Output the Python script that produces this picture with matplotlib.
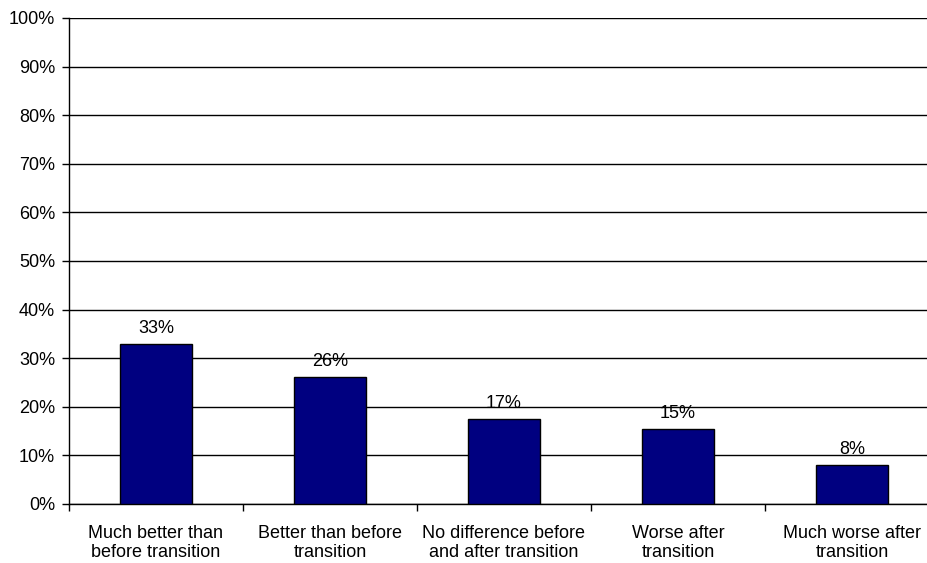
import matplotlib
matplotlib.use("Agg")
import matplotlib.pyplot as plt
from matplotlib.ticker import FixedLocator, FuncFormatter

categories = ["Much better than\nbefore transition", "Better than before\ntransition",
              "No difference before\nand after transition", "Worse after\ntransition",
              "Much worse after\ntransition"]
values = [32.9, 26.1, 17.4, 15.4, 8.0]
labels = ["33%", "26%", "17%", "15%", "8%"]
yticks = [0, 10, 20, 30, 40, 50, 60, 70, 80, 90, 100]

plt.rcParams['font.family'] = ['Liberation Sans', 'DejaVu Sans']

fig = plt.figure(figsize=(9.28, 5.63), dpi=100)
ax = fig.add_axes([69/928, 1-504/563, 870/928, 486/563])

x = list(range(len(categories)))
bars = ax.bar(x, values, width=0.41, color="#000080", edgecolor="black", linewidth=1, zorder=3)
for b, lab in zip(bars, labels):
    ax.annotate(lab, (b.get_x()+b.get_width()/2, b.get_height()), xytext=(0, 5),
                textcoords="offset points", ha="center", va="bottom", fontsize=13, zorder=4)

ax.set_xlim(-0.5, 4.5)
ax.set_ylim(0, 100)
ax.set_yticks(yticks)
ax.yaxis.set_major_formatter(FuncFormatter(lambda v, p: f"{int(v)}%"))
ax.yaxis.grid(True, color="black", linewidth=1, zorder=0)
ax.set_xticks(x)
ax.set_xticklabels(categories, fontsize=13, linespacing=1.2)
ax.tick_params(axis="x", which="major", length=0, pad=15)
ax.xaxis.set_minor_locator(FixedLocator([-0.5, 0.5, 1.5, 2.5, 3.5]))
ax.tick_params(axis="x", which="minor", length=5, width=1)
ax.tick_params(axis="y", labelsize=13, length=5, width=1, pad=5)
for s in ["top", "right"]:
    ax.spines[s].set_visible(False)
ax.spines["left"].set_linewidth(1)
ax.spines["bottom"].set_linewidth(1)

fig.savefig("out.png", dpi=100)
